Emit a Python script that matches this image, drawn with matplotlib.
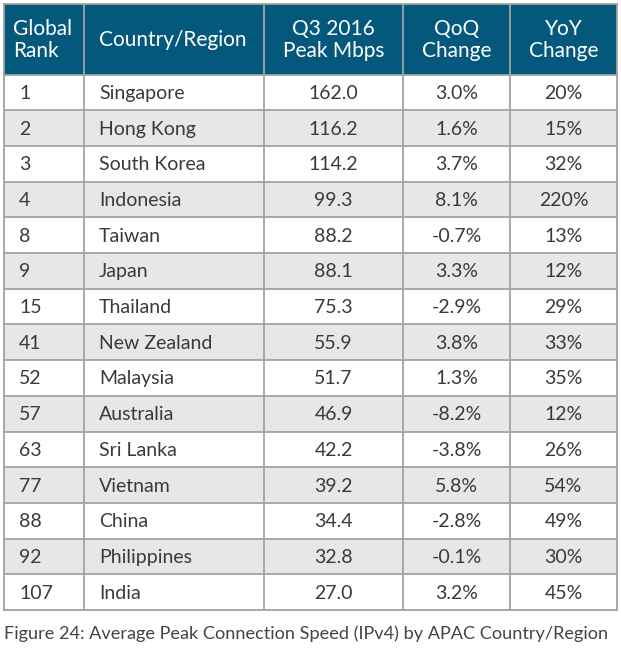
import matplotlib

matplotlib.use("Agg")
import matplotlib.pyplot as plt
from matplotlib.patches import Rectangle

plt.rcParams["font.family"] = ["Lato", "DejaVu Sans"]

headers = ["Global\nRank", "Country/Region", "Q3 2016\nPeak Mbps", "QoQ\nChange", "YoY\nChange"]
ranks = [1, 2, 3, 4, 8, 9, 15, 41, 52, 57, 63, 77, 88, 92, 107]
countries = ["Singapore", "Hong Kong", "South Korea", "Indonesia", "Taiwan", "Japan",
             "Thailand", "New Zealand", "Malaysia", "Australia", "Sri Lanka", "Vietnam",
             "China", "Philippines", "India"]
peak_mbps = [162.0, 116.2, 114.2, 99.3, 88.2, 88.1, 75.3, 55.9, 51.7, 46.9, 42.2, 39.2, 34.4, 32.8, 27.0]
qoq_pct = [3.0, 1.6, 3.7, 8.1, -0.7, 3.3, -2.9, 3.8, 1.3, -8.2, -3.8, 5.8, -2.8, -0.1, 3.2]
yoy_pct = [20, 15, 32, 220, 13, 12, 29, 33, 35, 12, 26, 54, 49, 30, 45]
caption = "Figure 24: Average Peak Connection Speed (IPv4) by APAC Country/Region"

HEAD = "#04587c"
ALT = "#e6e7e8"
LINE = "#a3a3a3"
TXT = "#3a3a3a"

W, H = 621, 653
fig = plt.figure(figsize=(W / 100, H / 100), dpi=100)
ax = fig.add_axes([0, 0, 1, 1])
ax.set_xlim(0, W)
ax.set_ylim(H, 0)
ax.axis("off")

col_x = [4, 84, 264, 403, 510, 617]
top, head_bot, bottom = 4, 74.5, 610
row_h = (bottom - head_bot) / len(ranks)

# header
ax.add_patch(Rectangle((col_x[0], top), col_x[-1] - col_x[0], head_bot - top,
                       facecolor=HEAD, edgecolor="none"))
for i, h in enumerate(headers):
    cy = (top + head_bot) / 2 + 1
    if i == 0:
        ax.text(13, cy, h, ha="left", va="center", color="white", fontsize=15, linespacing=1.15)
    elif i == 1:
        ax.text(99, cy, h, ha="left", va="center", color="white", fontsize=15)
    else:
        ax.text((col_x[i] + col_x[i + 1]) / 2, cy, h, ha="center", va="center",
                color="white", fontsize=15, linespacing=1.15)

# body rows
for r in range(len(ranks)):
    y0 = head_bot + r * row_h
    fc = "white" if r % 2 == 0 else ALT
    ax.add_patch(Rectangle((col_x[0], y0), col_x[-1] - col_x[0], row_h, facecolor=fc, edgecolor="none"))
    cy = y0 + row_h / 2 + 1
    vals = [str(ranks[r]), countries[r], f"{peak_mbps[r]:.1f}", f"{qoq_pct[r]:.1f}%", f"{yoy_pct[r]}%"]
    ax.text(19, cy, vals[0], ha="left", va="center", color=TXT, fontsize=14)
    ax.text(99, cy, vals[1], ha="left", va="center", color=TXT, fontsize=14)
    for c in range(2, 5):
        ax.text((col_x[c] + col_x[c + 1]) / 2, cy, vals[c], ha="center", va="center", color=TXT, fontsize=14)

# grid lines
for r in range(len(ranks) + 1):
    y = head_bot + r * row_h
    ax.plot([col_x[0], col_x[-1]], [y, y], color=LINE, lw=1.3)
ax.plot([col_x[0], col_x[-1]], [top, top], color=LINE, lw=1.3)
for x in col_x:
    ax.plot([x, x], [top, bottom], color=LINE, lw=1.3)

ax.text(4, 634, caption, ha="left", va="center", color="#444444", fontsize=13.1)

fig.savefig("out.png", dpi=100, facecolor="white")
